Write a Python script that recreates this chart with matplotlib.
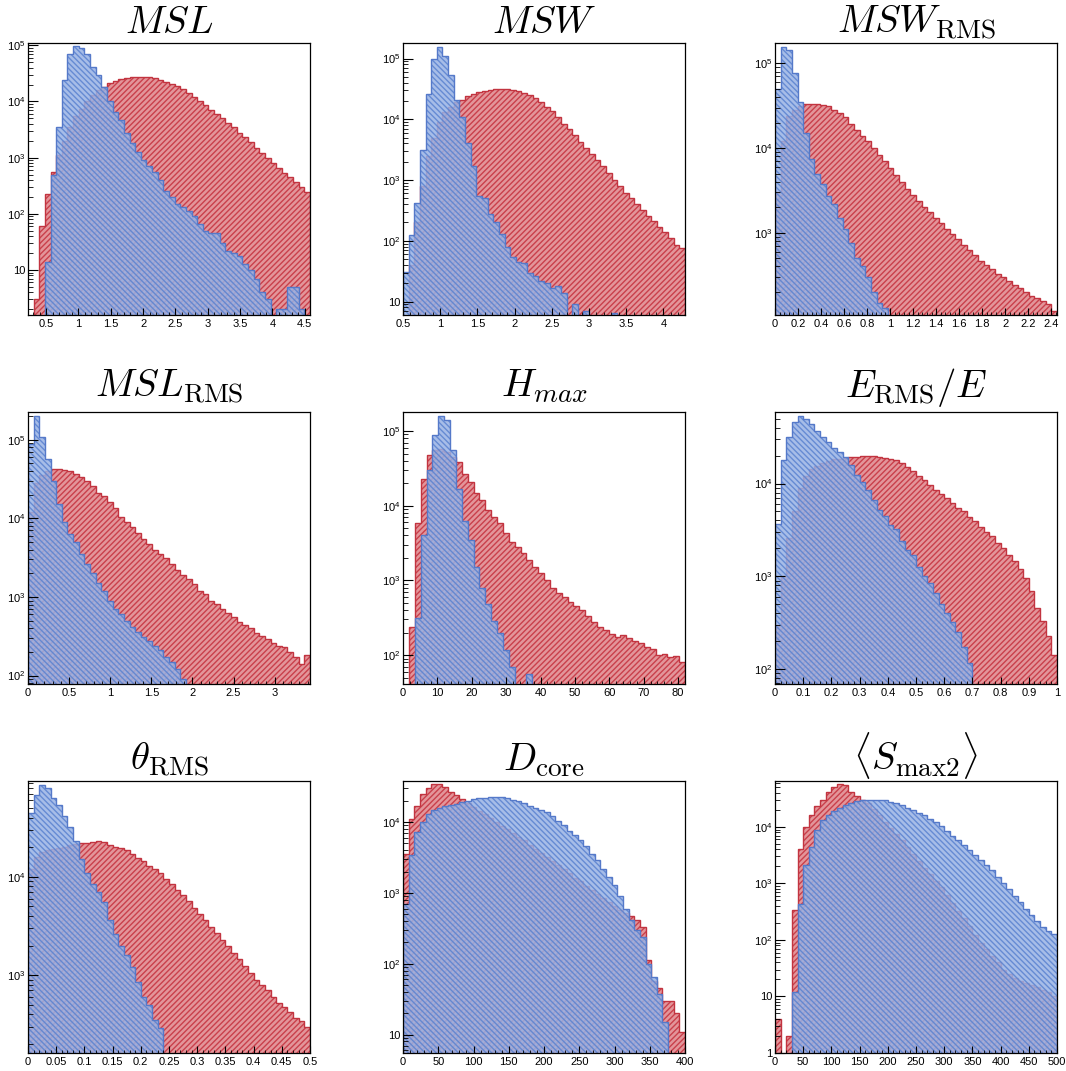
import numpy as np
import matplotlib
matplotlib.use("Agg")
import matplotlib.pyplot as plt
from matplotlib.ticker import MultipleLocator, AutoMinorLocator, LogLocator, FuncFormatter, NullFormatter

plt.rcParams['font.family'] = ['Liberation Sans', 'DejaVu Sans']
plt.rcParams['mathtext.fontset'] = 'custom'
plt.rcParams['mathtext.rm'] = 'Liberation Sans'
plt.rcParams['mathtext.it'] = 'Liberation Sans:italic'
plt.rcParams['hatch.linewidth'] = 1.0

# ---- data: bin counts (red = first sample, blue = second) ----
msl_red = [0, 3, 60, 230, 560, 1100, 2000, 3500, 5500, 7500,
           10000, 13000, 16000, 18000, 21000, 23000, 25000, 26000, 27000, 27500,
           27500, 27000, 26000, 24500, 22500, 20500, 18500, 16500, 14000, 12000,
           10000, 8500, 7200, 6000, 5000, 4200, 3500, 2800, 2300, 1900,
           1500, 1200, 1000, 800, 650, 530, 450, 370, 300, 240]
msl_blue = [0, 0, 0, 14, 500, 3500, 24000, 69000, 97000, 91000,
            70000, 41000, 30000, 18000, 10000, 6500, 4600, 2700, 1800, 1250,
            900, 700, 550, 400, 260, 200, 150, 130, 110, 90,
            67, 50, 45, 45, 30, 22, 20, 18, 13, 10,
            7, 4, 3, 0, 2, 2, 5, 5, 2, 0]

msw_red = [5, 40, 200, 800, 2500, 5000, 9000, 13000, 16000, 19000,
           21000, 24000, 26000, 28000, 29500, 30500, 31000, 31000, 31000, 30000,
           29000, 27500, 25000, 22000, 19000, 16000, 13500, 11000, 8500, 6800,
           5500, 4300, 3400, 2700, 2100, 1700, 1300, 1000, 800, 620,
           500, 400, 320, 260, 210, 170, 140, 110, 85, 76]
msw_blue = [31, 125, 415, 3100, 26000, 100000, 155000, 110000, 53000, 21000,
            11000, 4000, 1700, 550, 500, 280, 200, 130, 80, 55,
            45, 43, 30, 26, 22, 20, 17, 18, 14, 3,
            9, 3, 7, 0, 0, 0, 0, 6.5, 0, 0,
            0, 0, 0, 0, 0, 0, 0, 0, 0, 0]

mswrms_red = [3000, 12000, 24000, 28000, 31000, 33000, 33000, 33000, 32500, 31000,
              28000, 26000, 23000, 19000, 16500, 14000, 12000, 10000, 8300, 7000,
              5800, 4800, 4000, 3300, 2800, 2400, 2000, 1750, 1500, 1300,
              1100, 970, 850, 720, 620, 540, 470, 420, 370, 330,
              300, 270, 240, 220, 200, 180, 170, 155, 145, 120]
mswrms_blue = [50000, 155000, 145000, 78000, 35000, 15000, 7500, 5000, 3800, 2700,
               2200, 1500, 1100, 750, 500, 400, 300, 200, 150, 130,
               40, 0, 0, 0, 0, 0, 0, 0, 0, 0,
               0, 0, 0, 0, 0, 0, 0, 0, 0, 0,
               0, 0, 0, 0, 0, 0, 0, 0, 0, 0]

mslrms_red = [12000, 28000, 36000, 40000, 42000, 42000, 41000, 40000, 37000, 34000,
              30000, 26000, 21000, 19000, 16000, 13500, 10500, 9000, 7800, 6500,
              5400, 4700, 4000, 3500, 3100, 2600, 2200, 1900, 1700, 1450,
              1200, 1100, 900, 820, 700, 620, 560, 480, 440, 400,
              350, 320, 290, 260, 240, 230, 200, 170, 140, 185]
mslrms_blue = [88000, 200000, 107000, 57000, 30000, 15000, 9000, 6300, 5000, 3500,
               2600, 2000, 1500, 1200, 900, 700, 600, 500, 420, 360,
               310, 275, 240, 210, 170, 150, 120, 90, 60, 0,
               0, 0, 0, 0, 0, 0, 0, 0, 0, 0,
               0, 0, 0, 0, 0, 0, 0, 0, 0, 0]

hmax_red = [0, 240, 5800, 23000, 48000, 55000, 58000, 52000, 45000, 38000,
            27000, 21000, 15000, 12000, 8700, 7100, 5800, 4300, 3300, 2800,
            2300, 1900, 1500, 1250, 1000, 800, 680, 600, 520, 450,
            400, 330, 275, 240, 215, 190, 175, 185, 170, 155,
            145, 130, 120, 100, 105, 95, 97, 81]
hmax_blue = [0, 0, 310, 4000, 30000, 88000, 157000, 140000, 56000, 17000,
             6300, 3500, 1500, 800, 490, 290, 200, 118, 70, 35,
             0, 56, 0, 0, 0, 0, 0, 0, 0, 0,
             0, 0, 0, 0, 0, 0, 0, 0, 0, 0,
             0, 0, 0, 0, 0, 0, 0, 0]

erms_red = [300, 1000, 2600, 5000, 9000, 12000, 14500, 15500, 16500, 17500,
            18200, 18600, 19000, 19300, 19500, 19700, 19700, 19600, 19300, 19000,
            18500, 17800, 16500, 15000, 13500, 12000, 11000, 9600, 8500, 7800,
            7000, 6200, 5500, 5000, 4400, 3900, 3400, 3000, 2700, 2300,
            2000, 1700, 1450, 1200, 950, 700, 450, 330, 225, 140]
erms_blue = [3700, 17800, 32000, 46000, 54000, 50000, 44000, 37000, 32000, 28000,
             24000, 22000, 19500, 16000, 12300, 10500, 8500, 6600, 5200, 4500,
             3600, 3200, 2400, 1900, 1700, 1270, 1000, 850, 660, 500,
             400, 320, 250, 175, 115, 30, 0, 0, 0, 0,
             0, 0, 0, 0, 0, 0, 0, 0, 0, 0]

theta_red = [12000, 16000, 18000, 18500, 19000, 19500, 20000, 21000, 21500, 22000,
             22000, 22500, 23000, 22500, 21000, 20000, 19500, 18500, 17000, 15500,
             14500, 13000, 12000, 11000, 9500, 8500, 7300, 6500, 5700, 4800,
             4200, 3600, 3100, 2700, 2300, 2000, 1700, 1450, 1250, 1050,
             900, 800, 700, 600, 520, 470, 420, 370, 340, 300]
theta_blue = [44000, 68000, 85000, 79000, 63000, 53000, 41000, 32000, 23000, 15000,
              11000, 8500, 7000, 5600, 3600, 2600, 2000, 1600, 1200, 850,
              600, 500, 350, 290, 50, 0, 0, 0, 0, 0,
              0, 0, 0, 0, 0, 0, 0, 0, 0, 0,
              0, 0, 0, 0, 0, 0, 0, 0, 0, 0]

dcore_red = [3500, 11000, 17000, 25000, 30000, 34000, 35000, 31000, 27000, 24000,
             21000, 18500, 16500, 14500, 12800, 11300, 10000, 8900, 7900, 7000,
             6200, 5500, 4800, 4200, 3700, 3200, 2800, 2450, 2150, 1900,
             1650, 1450, 1250, 1100, 950, 850, 740, 650, 570, 520,
             480, 420, 330, 112, 58, 46, 30, 30, 20, 11]
dcore_blue = [700, 3400, 7200, 10000, 13000, 14600, 16000, 17000, 17500, 18000,
              19000, 20000, 21000, 22000, 22000, 22500, 22500, 22500, 22000, 20500,
              20000, 18500, 17000, 16000, 15000, 14000, 12000, 10500, 9000, 7600,
              6500, 5500, 4600, 3500, 2900, 2200, 1700, 1300, 900, 600,
              410, 300, 235, 100, 65, 37, 15, 0, 0, 0]

smax_red = [4, 0, 2, 345, 4100, 9800, 16000, 23000, 30000, 42000,
            51000, 58000, 55000, 42000, 36000, 30000, 26000, 21000, 16000, 12000,
            9500, 7500, 5800, 4400, 3300, 2500, 1900, 1450, 1100, 850,
            620, 450, 330, 240, 175, 120, 90, 68, 52, 40,
            30, 25, 21, 19, 17, 16, 15, 13, 12, 10]
smax_blue = [0, 0, 0, 12, 435, 2100, 4500, 9000, 13500, 16500,
             19500, 22000, 24000, 27000, 29000, 30000, 30500, 30500, 30000, 29500,
             28000, 26000, 24500, 22000, 20000, 18000, 16000, 14000, 12000, 10500,
             8500, 7000, 5800, 4800, 3900, 3200, 2600, 2100, 1700, 1300,
             1000, 800, 600, 470, 360, 280, 220, 170, 145, 130]

titles = [r'$MSL$', r'$MSW$', r'$MSW_{\rm RMS}$',
          r'$MSL_{\rm RMS}$', r'$H_{max}$', r'$E_{\rm RMS}/E$',
          r'$\theta_{\rm RMS}$', r'$D_{\rm core}$', r'$\langle S_{\rm max2}\rangle$']
red_sets = [msl_red, msw_red, mswrms_red, mslrms_red, hmax_red, erms_red,
            theta_red, dcore_red, smax_red]
blue_sets = [msl_blue, msw_blue, mswrms_blue, mslrms_blue, hmax_blue, erms_blue,
             theta_blue, dcore_blue, smax_blue]
x_ranges = [(0.22, 4.58), (0.5, 4.29), (0, 2.45), (0, 3.43), (0, 82),
            (0, 1), (0, 0.5), (0, 400), (0, 500)]
y_ranges = [(1.58, 1.1e5), (6.0, 1.8e5), (107, 1.74e5), (78, 2.25e5), (41, 1.8e5),
            (69, 5.9e4), (162, 9.4e4), (5.5, 3.8e4), (1, 6.5e4)]
x_major = [0.5, 0.5, 0.2, 0.5, 10, 0.1, 0.05, 50, 50]

# ---- layout in pixels of the 1066x1071 picture ----
W, H = 1066, 1071
col_left = [28, 403, 775]
row_top = [43, 412, 781]
aw, ah = 282, 272
title_pad = [7, 11, 8]

FLOOR = 1e-3
RED_FACE, RED_HATCH, RED_EDGE = '#e3959a', '#c9404b', '#c23440'
BLUE_FACE, BLUE_HATCH, BLUE_EDGE = '#98b2e4', '#5a82d0', '#5579c9'


def draw_hist(ax, edges, counts, face, hatch_c, edge, hatch, alpha):
    v = np.asarray(counts, dtype=float)
    v = np.where(v > 0, v, FLOOR)
    ax.stairs(v, edges, baseline=FLOOR, fill=True, facecolor=face, edgecolor='none',
              alpha=alpha, linewidth=0)
    ax.stairs(v, edges, baseline=FLOOR, fill=True, facecolor='none', edgecolor=hatch_c,
              hatch=hatch, linewidth=0, alpha=alpha)
    ax.stairs(v, edges, baseline=FLOOR, fill=False, edgecolor=edge, linewidth=1.0)


def log_label(v, pos):
    e = int(round(np.log10(v)))
    if e == 0:
        return '1'
    if e == 1:
        return '10'
    return r'$\mathregular{10^{%d}}$' % e


fig = plt.figure(figsize=(W / 100, H / 100), dpi=100)

for k in range(9):
    r, c = divmod(k, 3)
    ax = fig.add_axes([col_left[c] / W, 1 - (row_top[r] + ah) / H, aw / W, ah / H])
    lo, hi = x_ranges[k]
    edges = np.linspace(lo, hi, len(red_sets[k]) + 1)

    draw_hist(ax, edges, red_sets[k], RED_FACE, RED_HATCH, RED_EDGE, '//////', 1.0)
    draw_hist(ax, edges, blue_sets[k], BLUE_FACE, BLUE_HATCH, BLUE_EDGE, '\\\\\\\\\\\\', 0.85)

    ax.set_yscale('log')
    ax.set_xlim(lo, hi)
    ax.set_ylim(*y_ranges[k])

    ax.xaxis.set_major_locator(MultipleLocator(x_major[k]))
    ax.xaxis.set_minor_locator(AutoMinorLocator(5))
    ax.xaxis.set_major_formatter(FuncFormatter(lambda v, p: f'{v:g}'))
    ax.yaxis.set_major_locator(LogLocator(base=10))
    ax.yaxis.set_minor_locator(LogLocator(base=10, subs=np.arange(2, 10)))
    ax.yaxis.set_major_formatter(FuncFormatter(log_label))
    ax.yaxis.set_minor_formatter(NullFormatter())

    ax.tick_params(which='both', direction='in', top=False, right=False,
                   labelsize=8, colors='black')
    ax.tick_params(axis='y', which='major', length=7, width=0.8, pad=2)
    ax.tick_params(axis='y', which='minor', length=3.5, width=0.6)
    ax.tick_params(axis='x', which='major', length=5, width=0.8, pad=3)
    ax.tick_params(axis='x', which='minor', length=2.5, width=0.6)
    for s in ax.spines.values():
        s.set_linewidth(0.9)

    ax.set_title(titles[k], fontsize=28, math_fontfamily='cm', pad=title_pad[r])

fig.savefig('out.png', dpi=100)
